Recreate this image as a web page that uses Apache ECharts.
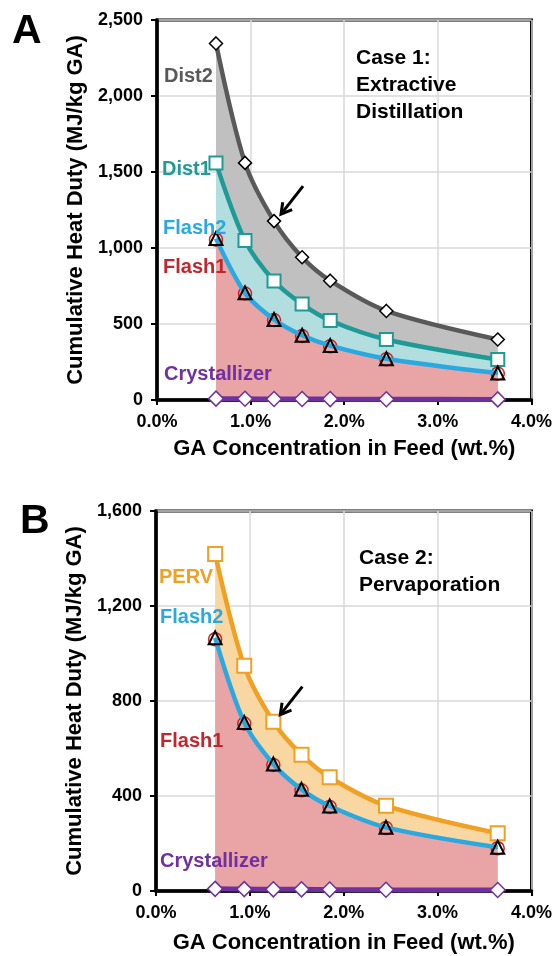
<!DOCTYPE html>
<html lang="en" style="height: 100%">
<head>
    <meta charset="UTF-8">
    <title>Cumulative Heat Duty</title>
    <script src="https://cdn.jsdelivr.net/npm/echarts@6/dist/echarts.min.js"></script>
</head>
<body style="height: 100%; margin: 0; background: #fff">
<div id="container" style="width: 555px; height: 956px"></div>

<script type="text/javascript">
    // GA concentration in feed (wt.%)
    var gaConc = [0.63, 0.94, 1.25, 1.55, 1.85, 2.45, 3.64];
    var xTicks = [0, 1, 2, 3, 4];

    // Case 1: extractive distillation (cumulative, MJ/kg GA)
    var crystA = [9, 8, 7, 7, 6, 5, 4];
    var flash1A = [1055, 700, 526, 421, 353, 268, 174];
    var flash2A = [1062, 705, 530, 426, 358, 272, 177];
    var dist1A = [1560, 1049, 783, 631, 523, 398, 266];
    var dist2A = [2346, 1560, 1177, 939, 785, 586, 398];

    // Case 2: pervaporation
    var crystB = [9, 8, 7, 7, 6, 5, 4];
    var flash1B = [1060, 705, 531, 424, 354, 265, 180];
    var flash2B = [1066, 710, 535, 428, 358, 268, 184];
    var pervB = [1419, 948, 713, 574, 479, 359, 243];

    var FONT = '"Liberation Sans", Arial, sans-serif';
    var SM = 0.3;

    function pairs(ys) {
        return gaConc.map(function (x, i) { return [x, ys[i]]; });
    }

    function fmtComma(v) {
        return String(v).replace(/\B(?=(\d{3})+(?!\d))/g, ',');
    }

    function areaSeries(ys, fill, gi, z) {
        return {
            type: 'line', xAxisIndex: gi, yAxisIndex: gi, data: pairs(ys),
            smooth: SM, showSymbol: false, silent: true, z: z,
            lineStyle: {width: 0}, areaStyle: {color: fill, opacity: 1}
        };
    }

    function lineSeries(ys, color, width, symbol, size, fill, border, bw, gi, z) {
        return {
            type: 'line', xAxisIndex: gi, yAxisIndex: gi, data: pairs(ys),
            smooth: SM, symbol: symbol, symbolSize: size, z: z,
            lineStyle: {color: color, width: width},
            itemStyle: {color: fill, borderColor: border, borderWidth: bw, opacity: 1}
        };
    }

    function xAxis(gi, gap) {
        return {
            type: 'value', gridIndex: gi, min: 0, max: 4, interval: 1,
            name: 'GA Concentration in Feed (wt.%)', nameLocation: 'middle', nameGap: gap,
            nameTextStyle: {fontFamily: FONT, fontWeight: 'bold', fontSize: 22, color: '#000'},
            axisLine: {show: true, onZero: false, lineStyle: {color: '#000', width: 3.5}},
            axisTick: {show: true, length: 5, lineStyle: {color: '#000', width: 2}},
            axisLabel: {
                fontFamily: FONT, fontWeight: 'bold', fontSize: 18, color: '#000', margin: 13,
                formatter: function (v) { return v.toFixed(1) + '%'; }
            },
            splitLine: {show: true, lineStyle: {color: '#d9d9d9', width: 1.5}}
        };
    }

    function yAxis(gi, max, step) {
        return {
            type: 'value', gridIndex: gi, min: 0, max: max, interval: step,
            name: 'Cumulative Heat Duty (MJ/kg GA)', nameLocation: 'middle', nameGap: 70,
            nameTextStyle: {fontFamily: FONT, fontWeight: 'bold', fontSize: 22, color: '#000'},
            axisLine: {show: true, lineStyle: {color: '#000', width: 3.5}},
            axisTick: {show: true, length: 6, lineStyle: {color: '#000', width: 2}},
            axisLabel: {
                fontFamily: FONT, fontWeight: 'bold', fontSize: 18, color: '#000', margin: 14,
                formatter: fmtComma
            },
            splitLine: {show: true, lineStyle: {color: '#d9d9d9', width: 1.5}}
        };
    }

    function txt(x, y, s, color, size, extra) {
        var o = {
            type: 'text', left: x, top: y, z: 50,
            style: {text: s, fill: color, font: 'bold ' + size + 'px ' + FONT}
        };
        if (extra) o.style.lineHeight = extra;
        return o;
    }

    var dom = document.getElementById('container');
    var myChart = echarts.init(dom, null, {renderer: 'canvas'});

    var option = {
        animation: false,
        backgroundColor: '#fff',
        grid: [
            {left: 157, top: 20, width: 379, height: 380, show: true, borderColor: '#000', borderWidth: 3},
            {left: 156, top: 511, width: 379, height: 380, show: true, borderColor: '#000', borderWidth: 3}
        ],
        xAxis: [xAxis(0, 38), xAxis(1, 41)],
        yAxis: [yAxis(0, 2500, 500), yAxis(1, 1600, 400)],
        series: [
            // Case 1 areas
            areaSeries(dist2A, '#c0c0c0', 0, 2),
            areaSeries(dist1A, '#b2dedf', 0, 3),
            areaSeries(flash1A, '#e9a4a6', 0, 4),
            // Case 1 lines
            lineSeries(dist2A, '#595959', 4.5, 'diamond', 13, '#fff', '#000', 1.5, 0, 10),
            lineSeries(dist1A, '#1f9a96', 4.5, 'rect', 13, '#fff', '#1f9a96', 2, 0, 11),
            lineSeries(flash1A, '#c0272d', 1.5, 'circle', 13, 'rgba(0,0,0,0)', '#d0202a', 1.5, 0, 12),
            lineSeries(flash2A, '#2aa9e1', 4.5, 'triangle', 13, 'rgba(0,0,0,0)', '#000', 2, 0, 13),
            lineSeries(crystA, '#7030a0', 5, 'diamond', 15, '#fff', '#7030a0', 1.5, 0, 14),
            // Case 2 areas
            areaSeries(pervB, '#f9d7a2', 1, 2),
            areaSeries(flash1B, '#e9a4a6', 1, 4),
            // Case 2 lines
            lineSeries(pervB, '#f0a023', 4.5, 'rect', 14, '#fff', '#f0a023', 2, 1, 10),
            lineSeries(flash1B, '#c0272d', 1.5, 'circle', 13, 'rgba(0,0,0,0)', '#d0202a', 1.5, 1, 12),
            lineSeries(flash2B, '#2aa9e1', 4.5, 'triangle', 13, 'rgba(0,0,0,0)', '#000', 2, 1, 13),
            lineSeries(crystB, '#7030a0', 5, 'diamond', 15, '#fff', '#7030a0', 1.5, 1, 14)
        ]
    };
    myChart.setOption(option, true);

    // annotation arrows, anchored on the third point of the top curve
    function arrow(gi, ys) {
        var p = myChart.convertToPixel({gridIndex: gi}, [gaConc[2], ys[2]]);
        var tip = [p[0] + 7, p[1] - 7];
        var tail = [p[0] + 29, p[1] - 35];
        var dx = tip[0] - tail[0], dy = tip[1] - tail[1];
        var len = Math.sqrt(dx * dx + dy * dy);
        var ux = dx / len, uy = dy / len;
        var h = 12, a = Math.PI / 6;
        function rot(ang) {
            var c = Math.cos(ang), s = Math.sin(ang);
            return [tip[0] - h * (ux * c - uy * s), tip[1] - h * (ux * s + uy * c)];
        }
        return [
            {type: 'line', z: 60, shape: {x1: tail[0], y1: tail[1], x2: tip[0], y2: tip[1]},
                style: {stroke: '#000', lineWidth: 3}},
            {type: 'polyline', z: 60, shape: {points: [rot(a), tip, rot(-a)]},
                style: {stroke: '#000', lineWidth: 3, fill: null}}
        ];
    }

    var graphics = [
        txt(12, 11, 'A', '#000', 41),
        txt(20, 501, 'B', '#000', 41),
        txt(356, 45, 'Case 1:\nExtractive\nDistillation', '#000', 21, 27),
        txt(359, 545, 'Case 2:\nPervaporation', '#000', 21, 27),
        txt(164, 66, 'Dist2', '#595959', 20),
        txt(162, 159, 'Dist1', '#1f9a96', 20),
        txt(163, 218, 'Flash2', '#2aa9e1', 20),
        txt(163, 257, 'Flash1', '#c0272d', 20),
        txt(164, 364, 'Crystallizer', '#7030a0', 20),
        txt(159, 567, 'PERV', '#f0a023', 20),
        txt(160, 607, 'Flash2', '#2aa9e1', 20),
        txt(160, 731, 'Flash1', '#c0272d', 20),
        txt(160, 851, 'Crystallizer', '#7030a0', 20)
    ].concat(arrow(0, dist2A), arrow(1, pervB));

    myChart.setOption({graphic: graphics});
</script>
</body>
</html>
